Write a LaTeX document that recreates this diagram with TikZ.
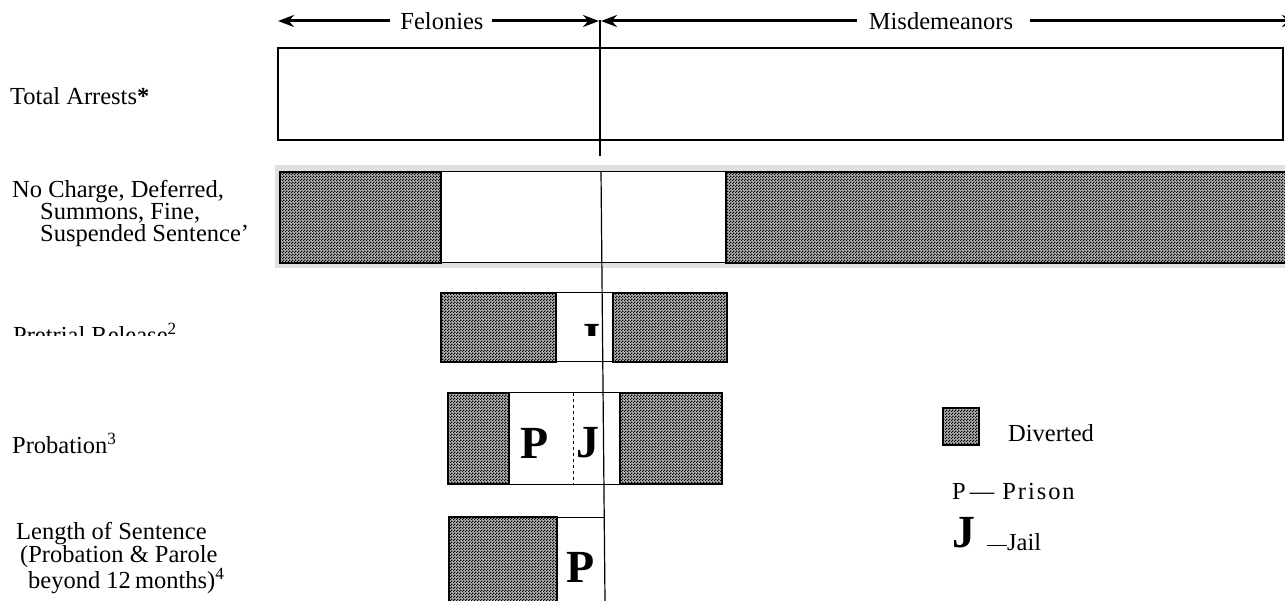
\documentclass[tikz,border=0pt]{standalone}
\usepackage{fontspec}
\setmainfont{Liberation Serif}
\usetikzlibrary{arrows.meta,patterns}
\pgfdeclarepatternformonly{finecheck}{\pgfpointorigin}{\pgfqpoint{3pt}{3pt}}{\pgfqpoint{3pt}{3pt}}{%
  \pgfpathrectangle{\pgfpointorigin}{\pgfqpoint{1.5pt}{1.5pt}}%
  \pgfpathrectangle{\pgfqpoint{1.5pt}{1.5pt}}{\pgfqpoint{1.5pt}{1.5pt}}%
  \pgfusepath{fill}}
\begin{document}
\begin{tikzpicture}[x=1pt,y=-1pt,
  lbl/.style={anchor=west,inner sep=0pt,font=\fontsize{24.5}{22}\selectfont},
  hdr/.style={inner sep=0pt,font=\fontsize{24.5}{26}\selectfont},
  div/.style={draw=black,line width=1.8pt,preaction={fill=black!30},pattern=finecheck},
  cell/.style={draw=black,line width=1pt,fill=white},
  big/.style={inner sep=0pt,font=\fontsize{46}{48}\selectfont\bfseries},
  harrow/.style={line width=3pt,-{Stealth[length=16pt,width=12pt]}},
  axis/.style={line width=1.2pt}]
\useasboundingbox (0,0) rectangle (1285,601);

% header
\node[hdr] (fel) at (442,21) {Felonies};
\node[hdr] (mis) at (941,21) {Misdemeanors};
\coordinate (felL) at (278,21);
\coordinate (felR) at (599,21);
\coordinate (misL) at (601,21);
\coordinate (misR) at (1298,21);
\draw[harrow] (fel.west) ++(-10,0) -- (felL);
\draw[harrow] (fel.east) ++(8,0) -- (felR);
\draw[harrow] (mis.west) ++(-12,0) -- (misL);
\draw[harrow] (mis.east) ++(17,0) -- (misR);

% total arrests
\draw[line width=1.5pt] (278,48) rectangle (1283,140);
\node[lbl] (ta) at (10,96) {Total Arrests\textbf{*}};

% no charge row
\fill[black!12] (275,165) rectangle (1290,268);
\draw[div] (280,172) rectangle (441,263);
\draw[cell] (441,172) rectangle (726,263);
\draw[div] (726,172) rectangle (1292,263);
\node[lbl,align=left] (nc) at (12,213) {No Charge, Deferred,\\\hspace*{28pt}Summons, Fine,\\\hspace*{28pt}Suspended Sentence'};

% pretrial row
\draw[div] (441,293) rectangle (556,362);
\draw[cell] (556,293) rectangle (613,362);
\draw[div] (613,293) rectangle (727,362);
\begin{scope}
\clip (0,0) rectangle (1285,335.5);
\node[big] (pj) at (589,340) {J};
\node[lbl] (pr) at (13,333) {Pretrial Release\textsuperscript{2}};
\end{scope}

% probation row
\draw[div] (448,393) rectangle (509,484);
\draw[cell] (509,393) rectangle (620,484);
\draw[dashed,line width=1pt] (573,393) -- (573,484);
\draw[div] (620,393) rectangle (722,484);
\node[big] (pp) at (535,443) {P};
\node[big] (pjj) at (588,443) {J};
\node[lbl] (pb) at (12,443) {Probation\textsuperscript{3}};

% length of sentence row
\draw[div] (449,517) rectangle (557,610);
\draw[line width=1pt] (557,517) -- (605,517);
\node[big] (lp) at (581,567) {P};
\node[lbl,align=left] (ls) at (16,558) {Length of Sentence\\\hspace*{4pt}(Probation \& Parole\\\hspace*{12pt}beyond 12\,months)\textsuperscript{4}};

% vertical divider
\draw[axis] (600,20) -- (600,156);
\draw[axis] (601,171) -- (605,601);

% legend
\draw[div] (943,408) rectangle (979,445);
\node[lbl] (dv) at (1008,433) {Diverted};
\node[lbl] (lpp) at (952,492) {P\kern4pt—\kern8pt{\addfontfeature{LetterSpace=8}Prison}};
\node[big,anchor=west] (lj) at (952,533) {J};
\node[lbl,anchor=base west] (jl) at (987,550) {\rule[4pt]{20pt}{1.5pt}Jail};
\end{tikzpicture}
\end{document}
